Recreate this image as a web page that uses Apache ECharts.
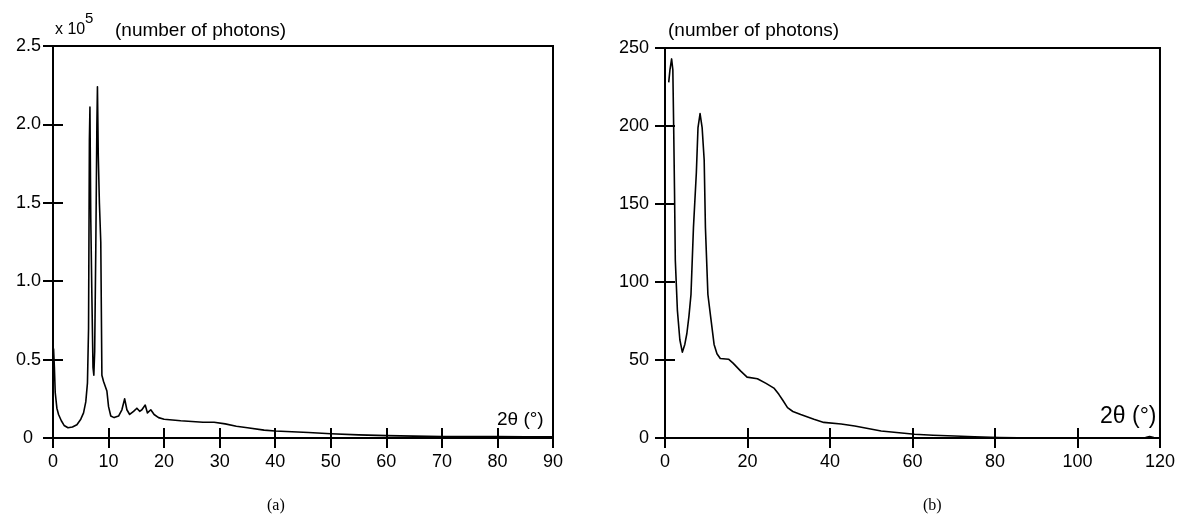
<!DOCTYPE html>
<html><head><meta charset="utf-8">
<script src="https://cdn.jsdelivr.net/npm/echarts@6/dist/echarts.min.js"></script>
<style>html,body{margin:0;padding:0;background:#fff}#c{width:1178px;height:520px}</style>
</head><body><div id="c"></div>
<script>
// Panel (a): 2θ in degrees, photons in units of 10^5
const angleA = [0.1,0.25,0.4,0.7,1.0,1.5,2.0,2.7,3.5,4.3,5.0,5.5,5.9,6.2,6.4,6.55,6.65,6.8,7.0,7.2,7.35,7.5,7.7,7.9,8.0,8.15,8.35,8.6,8.8,9.1,9.4,9.7,10.0,10.4,11.0,11.8,12.4,12.9,13.3,13.8,14.5,15.1,15.6,16.0,16.6,17.0,17.6,18.2,19.0,20.0,21.5,23.0,25.0,27.0,29.0,31.0,33.0,35.0,38.0,40.0,43.0,46.0,50.0,55.0,60.0,65.0,70.0,75.0,80.0,85.0,90.0];
const photonsA = [0.57,0.45,0.29,0.19,0.15,0.11,0.08,0.065,0.07,0.085,0.12,0.16,0.23,0.35,0.7,1.9,2.11,1.4,0.9,0.45,0.40,0.55,1.2,2.0,2.24,1.8,1.5,1.25,0.4,0.36,0.36,0.3,0.2,0.14,0.13,0.14,0.18,0.25,0.18,0.15,0.17,0.19,0.17,0.18,0.21,0.16,0.18,0.15,0.13,0.12,0.115,0.11,0.105,0.1,0.1,0.09,0.075,0.065,0.05,0.045,0.04,0.035,0.027,0.02,0.015,0.012,0.01,0.01,0.01,0.008,0.008];
// Panel (b)
const angleB = [0.9,1.2,1.6,1.9,2.1,2.3,2.5,3.0,3.6,4.2,4.8,5.3,5.8,6.3,6.9,7.6,8.0,8.5,9.0,9.5,9.8,10.4,11.1,11.9,12.6,13.4,15.4,16.5,18.3,19.9,22.4,24.5,26.4,27.6,28.6,29.7,31.0,32.9,36.1,38.5,42.7,46.0,52.4,60.5,65.0,70.2,75.0,81.0,90.0,100.0,110.0,116.5,117.5,118.5,120.0];
const photonsB = [228,236,243,236,200,160,114,82,63,55,60,67,78,92,135,170,199,208,199,178,135,92,77,60,54,51,50.5,48,43,39,38,35,32,28,24,19.5,17,15,12,10,9,7.7,4.5,2.4,1.8,1.3,0.8,0.3,0,0,0,0.3,1,0.3,0];

const yTickLabelsA = ['0','0.5','1.0','1.5','2.0','2.5'];
const xRangeA = [0, 90, 10];
const yRangeA = [0, 2.5, 0.5];
const xRangeB = [0, 120, 20];
const yRangeB = [0, 250, 50];

const FONT = '"Liberation Sans", Arial, Helvetica, sans-serif';
const BLACK = '#000';

function xAxes(grid, r) {
  const base = {gridIndex: grid, type: 'value', position: 'bottom', min: r[0], max: r[1], interval: r[2],
    splitLine: {show: false}};
  return [
    Object.assign({}, base, {
      axisLine: {show: true, lineStyle: {color: BLACK, width: 2}},
      axisTick: {show: true, inside: false, length: 10, lineStyle: {color: BLACK, width: 2}},
      axisLabel: {show: true, margin: 15, fontSize: 18, color: BLACK, fontFamily: FONT, showMinLabel: true, showMaxLabel: true}
    }),
    Object.assign({}, base, {
      axisLine: {show: false},
      axisTick: {show: true, inside: true, length: 10, lineStyle: {color: BLACK, width: 2}},
      axisLabel: {show: false}
    })
  ];
}
function yAxes(grid, r, labels, margin) {
  const base = {gridIndex: grid, type: 'value', position: 'left', min: r[0], max: r[1], interval: r[2],
    splitLine: {show: false}};
  return [
    Object.assign({}, base, {
      axisLine: {show: true, lineStyle: {color: BLACK, width: 2}},
      axisTick: {show: true, inside: false, length: 10, lineStyle: {color: BLACK, width: 2}},
      axisLabel: {show: true, margin: margin, fontSize: 18, color: BLACK, fontFamily: FONT,
        showMinLabel: true, showMaxLabel: true,
        formatter: labels ? function (v) {
          const s = labels[Math.round((v - r[0]) / r[2])];
          return v === 0 ? '{z|' + s + '}' : s;
        } : null,
        rich: labels ? {z: {fontSize: 18, fontFamily: FONT, color: BLACK, padding: [0, 8, 0, 0]}} : undefined
      }
    }),
    Object.assign({}, base, {
      axisLine: {show: false},
      axisTick: {show: true, inside: true, length: 10, lineStyle: {color: BLACK, width: 2}},
      axisLabel: {show: false}
    })
  ];
}

function pairs(xs, ys) { return xs.map((x, i) => [x, ys[i]]); }

const option = {
  animation: false,
  backgroundColor: '#fff',
  grid: [
    {left: 53, right: 625, top: 46, bottom: 82, show: true, borderColor: BLACK, borderWidth: 2, backgroundColor: 'transparent'},
    {left: 665, right: 17, top: 48, bottom: 82, show: true, borderColor: BLACK, borderWidth: 2, backgroundColor: 'transparent'}
  ],
  xAxis: xAxes(0, xRangeA).concat(xAxes(1, xRangeB)),
  yAxis: yAxes(0, yRangeA, yTickLabelsA, 12).concat(yAxes(1, yRangeB, null, 16)),
  series: [
    {type: 'line', xAxisIndex: 0, yAxisIndex: 0, data: pairs(angleA, photonsA), showSymbol: false, symbol: 'none',
      lineStyle: {color: BLACK, width: 1.6, join: 'round'}, silent: true},
    {type: 'line', xAxisIndex: 2, yAxisIndex: 2, data: pairs(angleB, photonsB), showSymbol: false, symbol: 'none',
      lineStyle: {color: BLACK, width: 1.6, join: 'round'}, silent: true}
  ],
  graphic: [
    {type: 'text', left: 55, top: 22, style: {text: 'x 10', fontSize: 16, fontFamily: FONT, fill: BLACK}},
    {type: 'text', left: 85, top: 11, style: {text: '5', fontSize: 15, fontFamily: FONT, fill: BLACK}},
    {type: 'text', left: 115, top: 21, style: {text: '(number of photons)', fontSize: 19, fontFamily: FONT, fill: BLACK}},
    {type: 'text', left: 668, top: 21, style: {text: '(number of photons)', fontSize: 19, fontFamily: FONT, fill: BLACK}},
    {type: 'text', left: 497, top: 410, style: {text: '2θ (°)', fontSize: 19, fontFamily: FONT, fill: BLACK}},
    {type: 'text', left: 1100, top: 405, style: {text: '2θ (°)', fontSize: 23, fontFamily: FONT, fill: BLACK}},
    {type: 'text', left: 267, top: 498, style: {text: '(a)', fontSize: 16, fontFamily: '"Liberation Serif", "Times New Roman", serif', fill: BLACK}},
    {type: 'text', left: 923, top: 498, style: {text: '(b)', fontSize: 16, fontFamily: '"Liberation Serif", "Times New Roman", serif', fill: BLACK}}
  ]
};
echarts.init(document.getElementById('c'), null, {renderer: 'canvas'}).setOption(option);
</script>
</body></html>
